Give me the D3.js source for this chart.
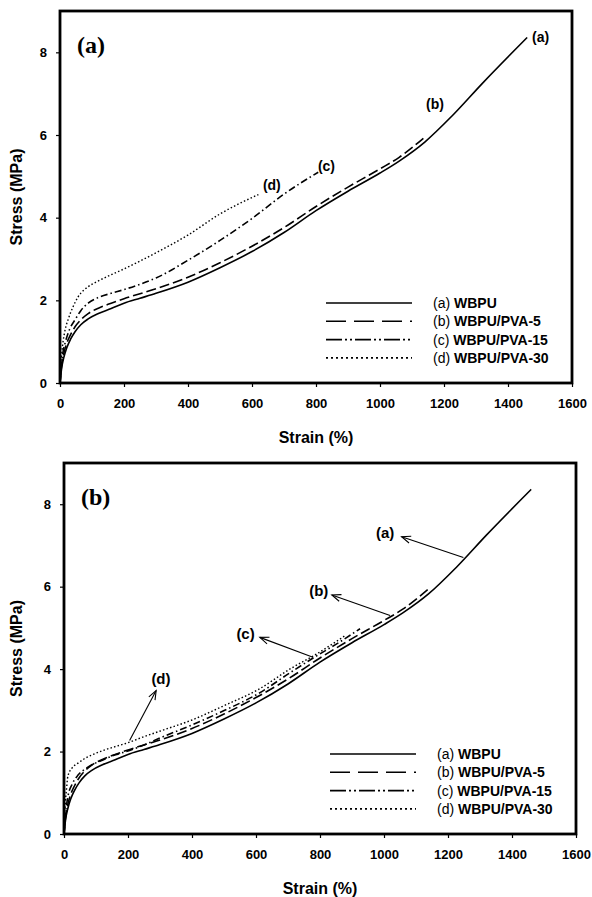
<!DOCTYPE html>
<html>
<head>
<meta charset="utf-8">
<script src="https://cdn.jsdelivr.net/npm/d3@7"></script>
<style>
  body { margin: 0; background: #fff; }
  svg { display: block; font-family: "Liberation Sans", Arial, sans-serif; }
</style>
</head>
<body>
<div id="chart"></div>
<script>
// ---- data ----
const xTicks = [0, 200, 400, 600, 800, 1000, 1200, 1400, 1600];
const yTicks = [0, 2, 4, 6, 8];
const seriesCodes = ["(a)", "(b)", "(c)", "(d)"];
const seriesNames = ["WBPU", "WBPU/PVA-5", "WBPU/PVA-15", "WBPU/PVA-30"];

// (a) WBPU, same curve in both panels
const strainA = [0, 5, 12, 21, 33, 47, 65, 88, 120, 160, 200, 250, 300, 400, 500, 600, 700, 800, 900, 1000, 1060, 1140, 1225, 1320, 1460];
const stressA = [0, 0.35, 0.62, 0.85, 1.06, 1.24, 1.41, 1.55, 1.68, 1.80, 1.93, 2.05, 2.17, 2.44, 2.79, 3.18, 3.64, 4.17, 4.64, 5.08, 5.37, 5.83, 6.46, 7.25, 8.36];
// (b) WBPU/PVA-5
const strainB = [0, 5, 12, 21, 33, 47, 65, 88, 120, 160, 200, 250, 300, 400, 500, 600, 700, 800, 900, 1000, 1060, 1140];
const stressB = [0, 0.42, 0.72, 0.96, 1.17, 1.36, 1.53, 1.68, 1.81, 1.93, 2.04, 2.16, 2.28, 2.56, 2.91, 3.31, 3.76, 4.27, 4.74, 5.18, 5.46, 5.95];
// panel (a): (c) and (d)
const strainC1 = [0, 5, 10, 16, 30, 47, 65, 88, 120, 160, 200, 250, 300, 400, 500, 600, 700, 807];
const stressC1 = [0, 0.5, 0.78, 0.97, 1.3, 1.53, 1.75, 1.93, 2.07, 2.17, 2.26, 2.39, 2.54, 2.97, 3.45, 3.98, 4.57, 5.10];
const strainD1 = [0, 3, 8, 15, 26, 40, 57, 75, 88, 120, 160, 200, 250, 300, 400, 500, 620];
const stressD1 = [0, 0.45, 0.9, 1.25, 1.55, 1.83, 2.09, 2.25, 2.33, 2.47, 2.62, 2.76, 2.95, 3.15, 3.58, 4.09, 4.56];
// panel (b): (c) and (d)
const strainC2 = [0, 5, 12, 25, 44, 65, 85, 120, 160, 190, 250, 294, 398, 502, 606, 710, 783, 860, 925];
const stressC2 = [0, 0.5, 0.9, 1.2, 1.43, 1.57, 1.67, 1.79, 1.92, 1.99, 2.16, 2.31, 2.64, 3.0, 3.40, 3.93, 4.29, 4.65, 4.98];
const strainD2 = [0, 3, 8, 12, 25, 44, 65, 85, 120, 160, 190, 250, 294, 398, 502, 606, 710, 790, 880];
const stressD2 = [0, 0.6, 1.1, 1.4, 1.6, 1.72, 1.83, 1.91, 2.02, 2.12, 2.19, 2.36, 2.48, 2.76, 3.12, 3.50, 4.02, 4.37, 4.82];

// curve-end labels in panel (a): [strain, stress]
const endLabelsA = [[1475, 8.36], [1172, 6.74], [806, 5.26], [662, 4.78]];
// arrows in panel (b): from point on curve -> head near label, label position
const arrowFrom = [[1248, 6.71], [1019, 5.30], [778, 4.29], [205, 2.27]];
const arrowTo = [[1055, 7.21], [837, 5.80], [612, 4.77], [288, 3.48]];
const arrowLabel = [[1032, 7.30], [826, 5.90], [596, 4.87], [303, 3.76]];

const W = 592, H = 897;
const svg = d3.select("#chart").append("svg")
  .attr("width", W).attr("height", H);

const defs = svg.append("defs");
defs.append("marker")
  .attr("id", "head")
  .attr("viewBox", "-10 -6 12 12")
  .attr("markerWidth", 12).attr("markerHeight", 12)
  .attr("markerUnits", "userSpaceOnUse")
  .attr("orient", "auto")
  .append("path")
  .attr("d", "M-9,-3.5 L0,0 L-9,3.5")
  .attr("fill", "none").attr("stroke", "#000").attr("stroke-width", 1.1);

const dashes = [null, "10,4", "7,3,1.5,3", "1.5,2.2"];
const legendDashes = [null, "20,8", "16,3,2,3,2,3", "2,3"];

function zip(xs, ys) { return xs.map((x, i) => [x, ys[i]]); }

function drawPanel(cfg) {
  const g = svg.append("g").attr("transform", `translate(${cfg.left},${cfg.top})`);
  const x = d3.scaleLinear().domain([0, 1600]).range([0, cfg.width]);
  const y = d3.scaleLinear().domain([0, 9]).range([cfg.height, 0]);

  const xAxis = g.append("g").attr("transform", `translate(0,${cfg.height})`)
    .call(d3.axisBottom(x).tickValues(xTicks).tickSize(4).tickPadding(12).tickFormat(d3.format("d")));
  const yAxis = g.append("g")
    .call(d3.axisLeft(y).tickValues(yTicks).tickSize(4).tickPadding(9).tickFormat(d3.format("d")));
  [xAxis, yAxis].forEach(a => {
    a.attr("font-family", null).attr("font-size", null);
    a.select(".domain").remove();
    a.selectAll("line").attr("stroke", "#000").attr("stroke-width", 1.2);
    a.selectAll("text").attr("font-size", 13).attr("font-weight", "bold").attr("fill", "#000");
  });

  const line = d3.line().x(d => x(d[0])).y(d => y(d[1])).curve(d3.curveMonotoneX);
  cfg.series.forEach((s, i) => {
    g.append("path")
      .datum(s)
      .attr("d", line)
      .attr("fill", "none")
      .attr("stroke", "#000")
      .attr("stroke-width", i === 3 ? 1.4 : 1.6)
      .attr("stroke-dasharray", dashes[i]);
  });

  // frame
  g.append("rect").attr("x", 0).attr("y", 0).attr("width", cfg.width).attr("height", cfg.height)
    .attr("fill", "none").attr("stroke", "#000").attr("stroke-width", 2.8);

  // panel tag
  g.append("text").attr("x", 17).attr("y", 42)
    .style("font-family", "'Liberation Serif', 'Times New Roman', serif")
    .attr("font-weight", "bold").attr("font-size", 24)
    .text(cfg.tag);

  // axis titles
  g.append("text")
    .attr("transform", `translate(${-cfg.left + 22},${cfg.height / 2}) rotate(-90)`)
    .attr("text-anchor", "middle")
    .attr("font-size", 16).attr("font-weight", "bold")
    .text("Stress (MPa)");
  g.append("text")
    .attr("x", cfg.width / 2).attr("y", cfg.height + 60)
    .attr("text-anchor", "middle")
    .attr("font-size", 16).attr("font-weight", "bold")
    .text("Strain (%)");

  // legend
  const leg = g.append("g").attr("transform", `translate(266,${cfg.legendY})`);
  seriesNames.forEach((name, i) => {
    const yy = i * 18.3;
    leg.append("line").attr("x1", 0).attr("x2", 86).attr("y1", yy).attr("y2", yy)
      .attr("stroke", "#000").attr("stroke-width", 1.6)
      .attr("stroke-dasharray", legendDashes[i]);
    const t = leg.append("text").attr("x", 107).attr("y", yy).attr("dy", "0.36em")
      .attr("font-size", 14);
    t.append("tspan").text(seriesCodes[i] + " ");
    t.append("tspan").attr("font-weight", "bold").text(name);
  });

  return { g, x, y };
}

// panel (a)
const pA = drawPanel({
  left: 60, top: 11, width: 512, height: 372, tag: "(a)", legendY: 292,
  series: [zip(strainA, stressA), zip(strainB, stressB), zip(strainC1, stressC1), zip(strainD1, stressD1)]
});
endLabelsA.forEach((p, i) => {
  pA.g.append("text")
    .attr("x", pA.x(p[0])).attr("y", pA.y(p[1])).attr("dy", "0.36em")
    .attr("text-anchor", i === 0 || i === 2 ? "start" : "middle")
    .attr("font-size", 14).attr("font-weight", "bold")
    .text(seriesCodes[i]);
});

// panel (b)
const pB = drawPanel({
  left: 64, top: 463, width: 512, height: 371, tag: "(b)", legendY: 291,
  series: [zip(strainA, stressA), zip(strainB, stressB), zip(strainC2, stressC2), zip(strainD2, stressD2)]
});
arrowFrom.forEach((p, i) => {
  pB.g.append("line")
    .attr("x1", pB.x(p[0])).attr("y1", pB.y(p[1]))
    .attr("x2", pB.x(arrowTo[i][0])).attr("y2", pB.y(arrowTo[i][1]))
    .attr("stroke", "#000").attr("stroke-width", 1.1)
    .attr("marker-end", "url(#head)");
  pB.g.append("text")
    .attr("x", pB.x(arrowLabel[i][0])).attr("y", pB.y(arrowLabel[i][1])).attr("dy", "0.36em")
    .attr("text-anchor", i === 3 ? "middle" : "end")
    .attr("font-size", 15).attr("font-weight", "bold")
    .text(seriesCodes[i]);
});
</script>
</body>
</html>
